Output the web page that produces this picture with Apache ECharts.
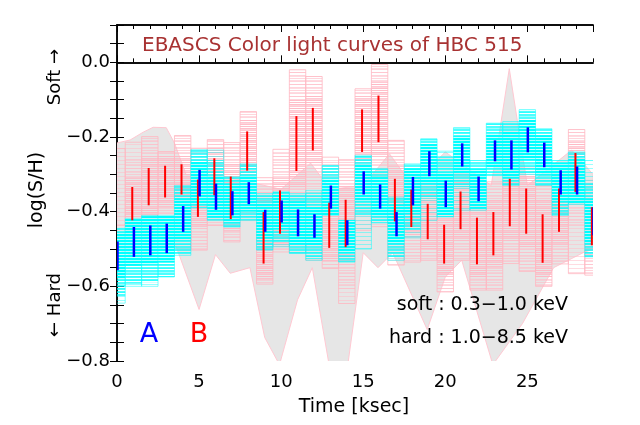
<!DOCTYPE html>
<html>
<head>
<meta charset="utf-8">
<script src="https://cdn.jsdelivr.net/npm/echarts@6/dist/echarts.min.js"></script>
<style>
  html, body { margin: 0; padding: 0; background: #fff; }
  #chart { width: 640px; height: 425px; }
</style>
</head>
<body>
<div id="chart"></div>
<script>
// time bins [ksec]
const binTime = [0, 1, 2, 3, 4, 5, 6, 7, 8, 9, 10, 11, 12, 13, 14, 15, 16, 17, 18, 19, 20, 21, 22, 23, 24, 25, 26, 27, 28, 29];

// A (blue / cyan): error bar and sample spread of log(S/H)
const errALo = [-0.557, -0.521, -0.517, -0.511, -0.454, -0.359, -0.395, -0.410, -0.380, -0.454, -0.429, -0.466, -0.470, -0.392, -0.490, -0.354, -0.392, -0.466, -0.383, -0.305, -0.388, -0.279, -0.372, -0.265, -0.287, -0.241, -0.281, -0.354, -0.354, -0.463];
const errAHi = [-0.480, -0.441, -0.437, -0.432, -0.385, -0.288, -0.325, -0.345, -0.321, -0.395, -0.370, -0.394, -0.407, -0.330, -0.423, -0.292, -0.327, -0.401, -0.307, -0.238, -0.317, -0.217, -0.306, -0.209, -0.209, -0.174, -0.215, -0.289, -0.279, -0.388];
const boxALo = [-0.645, -0.600, -0.600, -0.575, -0.517, -0.390, -0.423, -0.441, -0.423, -0.503, -0.494, -0.512, -0.530, -0.410, -0.535, -0.500, -0.430, -0.530, -0.470, -0.423, -0.414, -0.396, -0.396, -0.303, -0.330, -0.300, -0.330, -0.410, -0.380, -0.521];
const boxAHi = [-0.445, -0.418, -0.410, -0.410, -0.330, -0.234, -0.235, -0.307, -0.272, -0.352, -0.347, -0.352, -0.343, -0.276, -0.423, -0.249, -0.285, -0.361, -0.272, -0.205, -0.238, -0.175, -0.263, -0.163, -0.159, -0.127, -0.178, -0.263, -0.240, -0.263];

// B (red / pink)
const errBLo = [null, -0.423, -0.383, -0.362, -0.354, -0.414, -0.356, -0.420, -0.290, -0.539, -0.459, -0.291, -0.236, -0.497, -0.495, -0.240, -0.214, -0.426, -0.441, -0.474, -0.539, -0.447, -0.541, -0.517, -0.439, -0.459, -0.537, -0.454, -0.347, -0.490];
const errBHi = [null, -0.334, -0.283, -0.277, -0.273, -0.314, -0.257, -0.306, -0.185, -0.401, -0.343, -0.144, -0.122, -0.376, -0.368, -0.126, -0.089, -0.312, -0.341, -0.379, -0.435, -0.346, -0.416, -0.401, -0.312, -0.338, -0.407, -0.338, -0.243, -0.388];
const boxBLo = [-0.437, -0.450, -0.450, -0.450, -0.503, -0.503, -0.437, -0.481, -0.423, -0.594, -0.508, -0.510, -0.530, -0.552, -0.646, -0.450, -0.440, -0.543, -0.535, -0.530, -0.615, -0.530, -0.610, -0.610, -0.539, -0.560, -0.600, -0.540, -0.566, -0.570];
const boxBHi = [-0.231, -0.214, -0.199, -0.239, -0.196, -0.230, -0.207, -0.215, -0.132, -0.309, -0.233, -0.020, -0.038, -0.254, -0.261, -0.071, -0.006, -0.209, -0.300, -0.320, -0.330, -0.300, -0.330, -0.320, -0.280, -0.280, -0.330, -0.300, -0.180, -0.316];

// grey envelope
const bandUpX = [0, 0.8, 1.6, 2.2, 3.0, 3.5, 4.2, 6, 8, 10, 11.8, 13, 15, 16.6, 18, 20, 22.8, 23.9, 25.0, 27.7, 29];
const bandUp  = [-0.216, -0.208, -0.187, -0.174, -0.175, -0.216, -0.30, -0.30, -0.32, -0.34, -0.27, -0.34, -0.33, -0.245, -0.33, -0.24, -0.33, -0.017, -0.33, -0.235, -0.30];
const bandLoX = [0, 1, 2, 3, 3.6, 5.0, 6.0, 6.9, 8.1, 9.0, 9.9, 11.0, 11.9, 13.0, 14.0, 15.0, 15.9, 16.8, 18.9, 20.0, 21.0, 22.9, 24.7, 26.6, 28.4, 29];
const bandLo  = [-0.50, -0.52, -0.52, -0.49, -0.493, -0.662, -0.515, -0.565, -0.55, -0.737, -0.81, -0.636, -0.55, -0.83, -0.83, -0.51, -0.55, -0.51, -0.716, -0.575, -0.53, -0.81, -0.70, -0.55, -0.51, -0.50];

const FONT = '"DejaVu Sans", sans-serif';

function stripes(color, bg, period, on) {
  const c = document.createElement('canvas');
  c.width = 4;
  c.height = period;
  const ctx = c.getContext('2d');
  if (bg) { ctx.fillStyle = bg; ctx.fillRect(0, 0, 4, period); }
  ctx.fillStyle = color;
  ctx.fillRect(0, 0, 4, on);
  return { image: c, repeat: 'repeat' };
}

const pinkStyle = {
  edge: 'rgba(255,182,193,0.8)',
  outer: stripes('rgba(255,190,200,0.55)', null, 4, 1),
  mid: stripes('rgba(255,185,196,0.6)', null, 3, 1),
  core: stripes('rgba(255,180,192,0.7)', null, 2, 1)
};
const cyanStyle = {
  edge: 'rgba(0,255,255,0.5)',
  outer: stripes('rgba(0,255,255,0.4)', null, 4, 1),
  mid: stripes('rgba(0,255,255,0.7)', null, 3, 2),
  core: stripes('#00ffff', 'rgba(170,255,255,0.7)', 3, 2)
};

function boxItem(st) {
  return function (params, api) {
    const t = api.value(0), lo = api.value(1), hi = api.value(2);
    const eLo = api.value(3), eHi = api.value(4);
    const rectOf = (a, b) => {
      const p1 = api.coord([t - 0.5, b]);
      const p2 = api.coord([t + 0.5, a]);
      return { x: p1[0], y: p1[1], width: p2[0] - p1[0], height: p2[1] - p1[1] };
    };
    const children = [{ type: 'rect', shape: rectOf(lo, hi), style: { fill: st.outer, stroke: st.edge, lineWidth: 1 } }];
    if (!isNaN(eLo) && !isNaN(eHi)) {
      const len = eHi - eLo;
      children.push({ type: 'rect', shape: rectOf(Math.max(lo, eLo - 0.9 * len), Math.min(hi, eHi + 0.9 * len)), style: { fill: st.mid } });
      children.push({ type: 'rect', shape: rectOf(Math.max(lo, eLo - 0.3 * len), Math.min(hi, eHi + 0.3 * len)), style: { fill: st.core } });
    }
    return { type: 'group', children: children };
  };
}

function barItem(color, dx, width) {
  return function (params, api) {
    if (isNaN(api.value(1))) return;
    const t = api.value(0) + dx;
    const p1 = api.coord([t, api.value(1)]);
    const p2 = api.coord([t, api.value(2)]);
    return { type: 'line', shape: { x1: p1[0], y1: p1[1], x2: p2[0], y2: p2[1] }, style: { stroke: color, lineWidth: width } };
  };
}

const rowsA = binTime.map((t, i) => [t, boxALo[i], boxAHi[i], errALo[i], errAHi[i]]);
const rowsB = binTime.map((t, i) => [t, boxBLo[i], boxBHi[i], errBLo[i] == null ? NaN : errBLo[i], errBHi[i] == null ? NaN : errBHi[i]]);

function xAx(pos, interval, len, labels) {
  return {
    type: 'value', min: 0, max: 29, interval: interval, position: pos,
    axisLine: { show: true, lineStyle: { color: '#000', width: 1.5 } },
    axisTick: { show: true, inside: true, length: len, lineStyle: { color: '#000', width: 1 } },
    axisLabel: labels ? {
      show: true, margin: 12, color: '#000', fontFamily: FONT, fontSize: 18, showMaxLabel: false,
      formatter: v => String(Math.round(v))
    } : { show: false },
    splitLine: { show: false }
  };
}
function yAx(pos, labels) {
  return {
    type: 'value', min: -0.8, max: 0.1, interval: 0.05, position: pos,
    axisLine: { show: true, lineStyle: { color: '#000', width: 1.5 } },
    axisTick: { show: true, inside: true, length: 7, lineStyle: { color: '#000', width: 1 } },
    axisLabel: labels ? {
      show: true, margin: 7, color: '#000', fontFamily: FONT, fontSize: 18,
      formatter: function (v) {
        const k = Math.round(v * 20);
        if (k % 4 !== 0) return '';
        return (k / 20).toFixed(1).replace('-', '\u2212');
      }
    } : { show: false },
    splitLine: { show: false }
  };
}

const chart = echarts.init(document.getElementById('chart'), null, { renderer: 'canvas' });
chart.setOption({
  animation: false,
  backgroundColor: '#fff',
  grid: { left: 117, right: 47, top: 25, bottom: 64 },
  xAxis: [xAx('bottom', 5, 7, true), xAx('bottom', 1, 4, false), xAx('top', 5, 7, false), xAx('top', 1, 4, false)],
  yAxis: [yAx('left', true), yAx('right', false)],
  series: [
    {
      type: 'custom', name: 'band', clip: true, z: 1, data: [[0, 0]],
      renderItem: function (params, api) {
        const up = bandUpX.map((x, i) => api.coord([x, bandUp[i]]));
        const low = bandLoX.map((x, i) => api.coord([x, bandLo[i]])).reverse();
        return { type: 'polygon', shape: { points: up.concat(low) }, style: { fill: '#e6e6e6', stroke: '#ffc8d2', lineWidth: 1 } };
      }
    },
    { type: 'custom', name: 'B samples', clip: true, z: 2, data: rowsB, renderItem: boxItem(pinkStyle) },
    { type: 'custom', name: 'A samples', clip: true, z: 3, data: rowsA, renderItem: boxItem(cyanStyle) },
    { type: 'custom', name: 'B', clip: true, z: 4, data: rowsB.map(r => [r[0], r[3], r[4]]), renderItem: barItem('#ff0000', -0.07, 2) },
    { type: 'custom', name: 'A', clip: true, z: 5, data: rowsA.map(r => [r[0], r[3], r[4]]), renderItem: barItem('#0000ff', 0.03, 2.5) }
  ],
  graphic: [
    { type: 'text', x: 142, y: 46, z: 100, style: { text: 'EBASCS Color light curves of HBC 515', font: '20px ' + FONT, fill: '#a83232', align: 'left', verticalAlign: 'middle' } },
    { type: 'text', x: 149, y: 335, z: 100, style: { text: 'A', font: '27px ' + FONT, fill: '#0000ff', align: 'center', verticalAlign: 'middle' } },
    { type: 'text', x: 199, y: 335, z: 100, style: { text: 'B', font: '27px ' + FONT, fill: '#ff0000', align: 'center', verticalAlign: 'middle' } },
    { type: 'text', x: 568, y: 305, z: 100, style: { text: 'soft : 0.3\u22121.0 keV', font: '19px ' + FONT, fill: '#000', align: 'right', verticalAlign: 'middle' } },
    { type: 'text', x: 568, y: 338, z: 100, style: { text: 'hard : 1.0\u22128.5 keV', font: '19px ' + FONT, fill: '#000', align: 'right', verticalAlign: 'middle' } },
    { type: 'text', x: 354, y: 407, z: 100, style: { text: 'Time [ksec]', font: '19px ' + FONT, fill: '#000', align: 'center', verticalAlign: 'middle' } },
    { type: 'text', x: 37, y: 190, rotation: Math.PI / 2, z: 100, style: { text: 'log(S/H)', font: '19px ' + FONT, fill: '#000', align: 'center', verticalAlign: 'middle' } },
    { type: 'text', x: 55, y: 77, rotation: Math.PI / 2, z: 100, style: { text: 'Soft \u2192', font: '18px ' + FONT, fill: '#000', align: 'center', verticalAlign: 'middle' } },
    { type: 'text', x: 55, y: 305, rotation: Math.PI / 2, z: 100, style: { text: '\u2190 Hard', font: '18px ' + FONT, fill: '#000', align: 'center', verticalAlign: 'middle' } }
  ]
});
</script>
</body>
</html>
